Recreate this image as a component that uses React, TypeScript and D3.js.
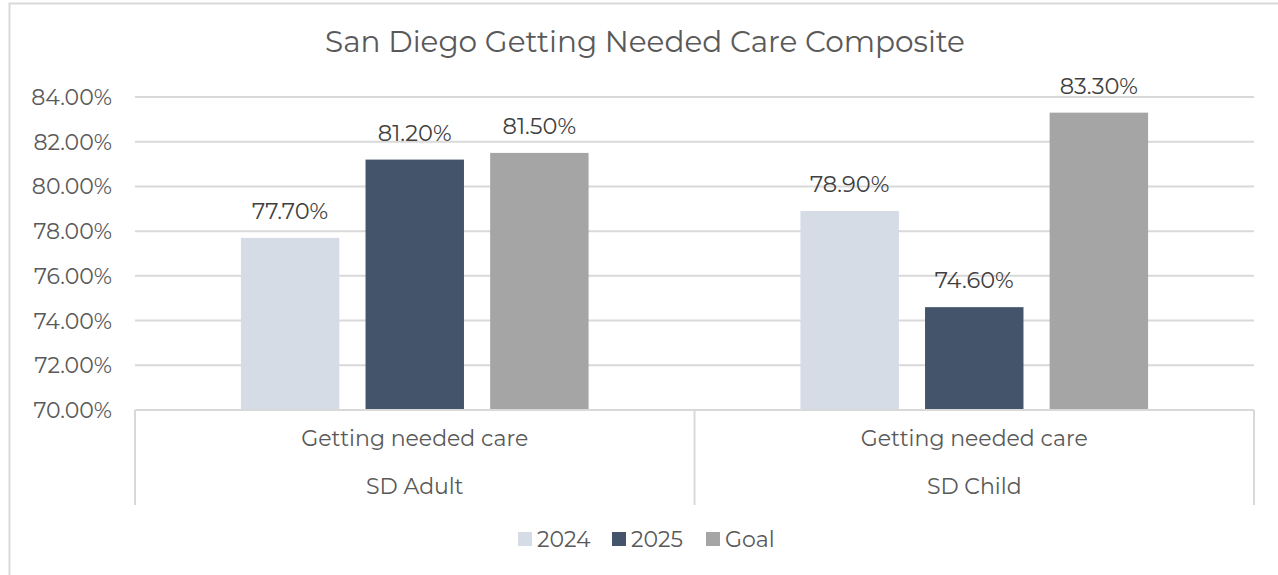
import React from "react";
import * as d3 from "d3";

const title = "San Diego Getting Needed Care Composite";
const groups = ["SD Adult", "SD Child"];
const subLabels = ["Getting needed care", "Getting needed care"];
const seriesNames = ["2024", "2025", "Goal"];
const seriesColors = ["#d6dce5", "#44546a", "#a5a5a5"];
const values2024 = [77.7, 78.9];
const values2025 = [81.2, 74.6];
const valuesGoal = [81.5, 83.3];
const yTicks = [70, 72, 74, 76, 78, 80, 82, 84];

const W = 1278;
const H = 575;
const left = 135;
const right = 1254;
const top = 97;
const bottom = 410;
const font = "'Montserrat', 'Open Sans', 'Noto Sans', sans-serif";
const textColor = "#595959";

export default function App() {
  const series = [values2024, values2025, valuesGoal];
  const y = d3.scaleLinear().domain([70, 84]).range([bottom, top]);
  const x0 = d3.scaleBand<string>().domain(groups).range([left, right]).paddingInner(0).paddingOuter(0);
  const x1 = d3
    .scaleBand<string>()
    .domain(seriesNames)
    .range([0, x0.bandwidth()])
    .paddingInner(0.21)
    .paddingOuter(0.85);
  const fmt = (v: number) => v.toFixed(2) + "%";

  const legendItems = [518, 612, 706];

  return (
    <svg width={W} height={H} style={{ position: "absolute", left: 0, top: 0 }} fontFamily={font}>
      <rect x={0} y={0} width={W} height={H} fill="#fff" />
      <rect x={9.5} y={3.5} width={W + 10} height={H + 10} fill="none" stroke="#d9d9d9" strokeWidth={2} />
      <text x={645} y={52} textAnchor="middle" fontSize={29.5} fill={textColor}>
        {title}
      </text>
      {yTicks.map((t) => (
        <g key={t}>
          {t !== 70 && (
            <line x1={left} x2={right} y1={y(t)} y2={y(t)} stroke="#d9d9d9" strokeWidth={2} />
          )}
          <text x={112} y={y(t) + 8} textAnchor="end" fontSize={22} fill={textColor}>
            {t.toFixed(2) + "%"}
          </text>
        </g>
      ))}
      {groups.map((g, gi) => (
        <g key={g}>
          {series.map((vals, si) => {
            const bx = (x0(g) as number) + (x1(seriesNames[si]) as number);
            const bw = x1.bandwidth();
            return (
              <g key={si}>
                <rect x={bx} y={y(vals[gi])} width={bw} height={bottom - y(vals[gi])} fill={seriesColors[si]} />
                <text x={bx + bw / 2} y={y(vals[gi]) - 19} textAnchor="middle" fontSize={22.5} fill="#404040">
                  {fmt(vals[gi])}
                </text>
              </g>
            );
          })}
          <text x={(x0(g) as number) + x0.bandwidth() / 2} y={446} textAnchor="middle" fontSize={22} fill={textColor}>
            {subLabels[gi]}
          </text>
          <text x={(x0(g) as number) + x0.bandwidth() / 2} y={494} textAnchor="middle" fontSize={22} fill={textColor}>
            {g}
          </text>
        </g>
      ))}
      <line x1={left} x2={right} y1={bottom} y2={bottom} stroke="#d9d9d9" strokeWidth={2} />
      {[left, x0("SD Child") as number, right].map((xx, i) => (
        <line key={i} x1={xx} x2={xx} y1={bottom} y2={505} stroke="#d9d9d9" strokeWidth={2} />
      ))}
      {seriesNames.map((s, i) => (
        <g key={s}>
          <rect x={legendItems[i]} y={532} width={14} height={14} fill={seriesColors[i]} />
          <text x={legendItems[i] + 19} y={547} fontSize={22} fill={textColor}>
            {s}
          </text>
        </g>
      ))}
    </svg>
  );
}
